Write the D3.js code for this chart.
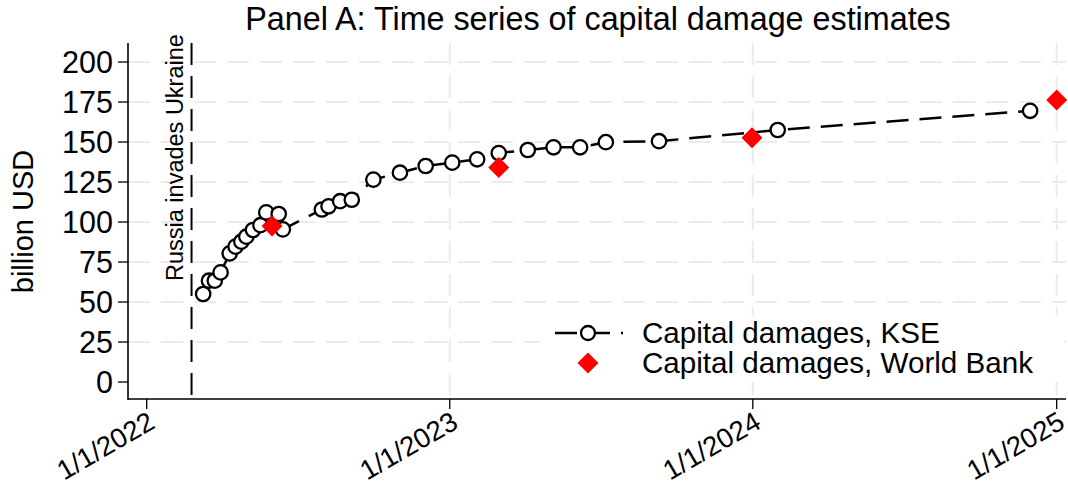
<!DOCTYPE html>
<html><head><meta charset="utf-8">
<script src="https://cdn.jsdelivr.net/npm/d3@7"></script>
<style>body{margin:0;background:#fff;} text{font-family:"Liberation Sans",Arial,sans-serif;fill:#000;}</style>
</head><body><svg id="c" width="1068" height="487"></svg>
<script>
// ---- data ----
const kseDates = ["2022-03-10","2022-03-17","2022-03-24","2022-03-31","2022-04-11","2022-04-18","2022-04-25","2022-05-01","2022-05-09","2022-05-18","2022-05-25","2022-06-09","2022-06-14","2022-07-31","2022-08-08","2022-08-22","2022-09-05","2022-10-01","2022-11-02","2022-12-03","2023-01-04","2023-02-03","2023-03-01","2023-04-05","2023-05-06","2023-06-07","2023-07-08","2023-09-10","2024-01-31","2024-11-30"];
const kseValues = [55,63.3,63.3,68.5,80.4,84.6,87.7,90.8,95,98,106,105,95.4,107.8,109.8,113,113.9,126.5,130.8,135,137.1,139.2,143.1,145,146.7,146.7,149.9,150.5,157.5,169.5];
const wbDates = ["2022-06-01","2023-03-01","2023-12-31","2025-01-01"];
const wbValues = [97.5,134,152.7,176.2];
const yTicks = [0,25,50,75,100,125,150,175,200];
const yGridTicks = [25,50,75,100,125,150,175,200];
const xTickDates = ["2022-01-01","2023-01-01","2024-01-01","2025-01-01"];
const xTickLabels = ["1/1/2022","1/1/2023","1/1/2024","1/1/2025"];
const xGridDates = ["2023-01-01","2024-01-01","2025-01-01"];
const invasionDate = "2022-02-24";
const invasionLabel = "Russia invades Ukraine";
const seriesNames = ["Capital damages, KSE","Capital damages, World Bank"];
const titleText = "Panel A: Time series of capital damage estimates";
const yTitle = "billion USD";

// ---- layout ----
const parse = d3.utcParse("%Y-%m-%d");
const plotL = 128, plotR = 1066, plotT = 43, plotB = 399;
const x = d3.scaleUtc().domain([parse("2022-01-01"), parse("2025-01-01")]).range([146.7, 1056.7]);
const y = d3.scaleLinear().domain([0,200]).range([382, 62]);
const svg = d3.select("#c");

const kse = kseDates.map((d,i)=>({d:parse(d), v:kseValues[i]}));
const wb = wbDates.map((d,i)=>({d:parse(d), v:wbValues[i]}));

const gridColor = "#ebebeb";
// horizontal grid
svg.append("g").selectAll("line").data(yGridTicks).join("line")
  .attr("x1", plotL).attr("x2", plotR).attr("y1", d=>y(d)).attr("y2", d=>y(d))
  .attr("stroke", gridColor).attr("stroke-width", 2).attr("stroke-dasharray","22,11");
// vertical grid
svg.append("g").selectAll("line").data(xGridDates).join("line")
  .attr("x1", d=>x(parse(d))).attr("x2", d=>x(parse(d))).attr("y1", plotT).attr("y2", plotB)
  .attr("stroke", gridColor).attr("stroke-width", 2).attr("stroke-dasharray","22,11");

// invasion line
const xi = x(parse(invasionDate));
svg.append("line").attr("x1", xi).attr("x2", xi).attr("y1", plotT).attr("y2", plotB)
  .attr("stroke","#000").attr("stroke-width",2).attr("stroke-dasharray","22,11");
svg.append("text").attr("transform", `translate(${xi-9},281) rotate(-90)`)
  .attr("font-size", 23.5).attr("text-anchor","start").text(invasionLabel);

// KSE line
const line = d3.line().x(d=>x(d.d)).y(d=>y(d.v));
svg.append("path").datum(kse).attr("d", line).attr("fill","none")
  .attr("stroke","#000").attr("stroke-width",2.5).attr("stroke-dasharray","22,11");
svg.append("g").selectAll("circle").data(kse).join("circle")
  .attr("cx", d=>x(d.d)).attr("cy", d=>y(d.v)).attr("r", 7.2)
  .attr("fill","#fff").attr("stroke","#000").attr("stroke-width",2.3);
// World Bank diamonds
const diamond = d3.symbol().type(d3.symbolSquare).size(220);
svg.append("g").selectAll("path").data(wb).join("path")
  .attr("d", diamond)
  .attr("transform", d=>`translate(${x(d.d)},${y(d.v)}) rotate(45)`)
  .attr("fill","#ff0000");

// legend
svg.append("rect").attr("x", 540).attr("y", 316).attr("width", 524).attr("height", 66).attr("fill","#fff");
svg.append("line").attr("x1",555).attr("x2",623).attr("y1",333).attr("y2",333)
  .attr("stroke","#000").attr("stroke-width",2.5).attr("stroke-dasharray","22,11");
svg.append("circle").attr("cx",588).attr("cy",333).attr("r",7)
  .attr("fill","#fff").attr("stroke","#000").attr("stroke-width",2.3);
svg.append("path").attr("d", diamond).attr("transform","translate(588,363) rotate(45)").attr("fill","#ff0000");
svg.append("g").selectAll("text").data(seriesNames).join("text")
  .attr("x", 642).attr("y", (d,i)=>343+i*30).attr("font-size", 29.6).text(d=>d);

// axes
svg.append("line").attr("x1",plotL).attr("x2",plotL).attr("y1",plotT).attr("y2",plotB+1)
  .attr("stroke","#000").attr("stroke-width",1.6);
svg.append("line").attr("x1",plotL).attr("x2",plotR).attr("y1",plotB).attr("y2",plotB)
  .attr("stroke","#000").attr("stroke-width",1.6);
// y ticks
const yt = svg.append("g").selectAll("g").data(yTicks).join("g");
yt.append("line").attr("x1",118).attr("x2",plotL).attr("y1",d=>y(d)).attr("y2",d=>y(d))
  .attr("stroke","#000").attr("stroke-width",1.3);
yt.append("text").attr("x",113).attr("y",d=>y(d)).attr("dy","0.35em")
  .attr("text-anchor","end").attr("font-size",30.5).text(d=>d);
// x ticks
const xt = svg.append("g").selectAll("g").data(xTickDates).join("g");
xt.append("line").attr("x1",d=>x(parse(d))).attr("x2",d=>x(parse(d))).attr("y1",plotB).attr("y2",plotB+10)
  .attr("stroke","#000").attr("stroke-width",1.3);
xt.append("text").attr("transform", d=>`translate(${x(parse(d))},410) rotate(-30)`)
  .attr("dy","0.72em").attr("text-anchor","end").attr("font-size",27.5)
  .text((d,i)=>xTickLabels[i]);

// titles
svg.append("text").attr("x",598).attr("y",30).attr("text-anchor","middle").attr("font-size",32.3).text(titleText);
svg.append("text").attr("transform","translate(33,221.5) rotate(-90)").attr("text-anchor","middle")
  .attr("font-size",29).text(yTitle);
</script></body></html>
